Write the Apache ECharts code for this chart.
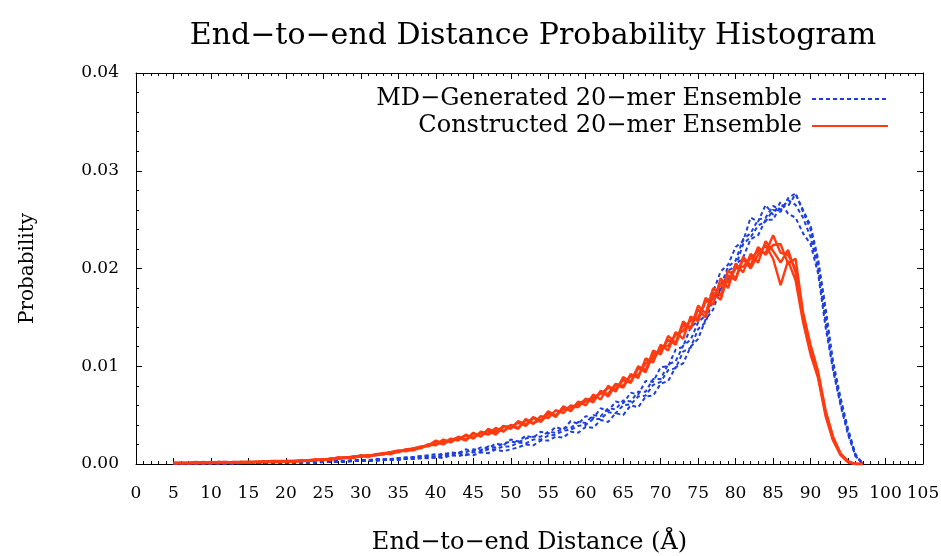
<!DOCTYPE html>
<html>
<head>
<meta charset="utf-8">
<script src="https://cdn.jsdelivr.net/npm/echarts@6/dist/echarts.min.js"></script>
<style>
html,body{margin:0;padding:0;background:#fff;}
#chart{width:941px;height:556px;}
</style>
</head>
<body>
<div id="chart"></div>
<script>
// Distance bins (Å), 5..97
const distances = [5,6,7,8,9,10,11,12,13,14,15,16,17,18,19,20,21,22,23,24,25,26,27,28,29,30,31,32,33,34,35,36,37,38,39,40,41,42,43,44,45,46,47,48,49,50,51,52,53,54,55,56,57,58,59,60,61,62,63,64,65,66,67,68,69,70,71,72,73,74,75,76,77,78,79,80,81,82,83,84,85,86,87,88,89,90,91,92,93,94,95,96,97];

const xTicks = [0,5,10,15,20,25,30,35,40,45,50,55,60,65,70,75,80,85,90,95,100,105];
const yTicks = [0.00,0.01,0.02,0.03,0.04];

// MD-Generated 20-mer Ensemble (4 runs)
const md1 = [0,0,0.0001,0,0.0001,0,0.0001,0.0001,0,0.0001,0.0001,0.0001,0.0001,0.0001,0.0001,
  0.0001,0.0001,0.0002,0.0001,0.0002,0.0002,0.0002,0.0002,0.0003,0.0003,
  0.0003,0.0003,0.0004,0.0004,0.0004,0.0005,0.0005,0.0006,0.0006,0.0007,
  0.0006,0.0009,0.0008,0.0011,0.0009,0.0012,0.0012,0.0015,0.0015,0.0018,
  0.0018,0.0022,0.0021,0.0025,0.0025,0.0029,0.0030,0.0034,0.0035,0.0039,
  0.0040,0.0046,0.0046,0.0053,0.0052,0.0060,0.0061,0.0069,0.0070,0.0081,
  0.0084,0.0096,0.0098,0.0115,0.0119,0.0138,0.0145,0.0170,0.0177,0.0198,
  0.0202,0.0225,0.0232,0.0244,0.0248,0.0260,0.0258,0.0272,0.0277,0.0258,
  0.0240,0.0206,0.0150,0.0100,0.0064,0.0033,0.0009,0];
const md2 = [0,0.0001,0,0.0001,0.0001,0.0001,0,0.0001,0.0001,0.0001,0.0001,0.0001,0.0001,0.0002,0.0001,
  0.0001,0.0002,0.0002,0.0002,0.0002,0.0002,0.0003,0.0003,0.0003,0.0004,
  0.0004,0.0004,0.0004,0.0005,0.0005,0.0006,0.0007,0.0007,0.0008,0.0009,
  0.0010,0.0009,0.0012,0.0011,0.0015,0.0013,0.0017,0.0016,0.0021,0.0019,
  0.0025,0.0023,0.0029,0.0027,0.0033,0.0031,0.0038,0.0035,0.0044,0.0041,
  0.0049,0.0047,0.0057,0.0054,0.0064,0.0062,0.0073,0.0071,0.0085,0.0084,
  0.0099,0.0100,0.0117,0.0120,0.0140,0.0146,0.0166,0.0176,0.0197,0.0204,
  0.0222,0.0228,0.0252,0.0248,0.0265,0.0255,0.0268,0.0256,0.0252,0.0236,
  0.0225,0.0195,0.0140,0.0096,0.0060,0.0030,0.0008,0];
const md3 = [0,0,0,0.0001,0,0.0001,0.0001,0,0.0001,0.0001,0.0001,0.0001,0.0001,0.0001,0.0001,
  0.0001,0.0001,0.0001,0.0002,0.0001,0.0002,0.0002,0.0002,0.0002,0.0003,
  0.0003,0.0003,0.0003,0.0004,0.0004,0.0004,0.0005,0.0005,0.0006,0.0006,
  0.0007,0.0006,0.0009,0.0008,0.0010,0.0009,0.0012,0.0011,0.0015,0.0013,
  0.0015,0.0017,0.0020,0.0019,0.0024,0.0024,0.0028,0.0027,0.0033,0.0032,
  0.0038,0.0037,0.0045,0.0043,0.0052,0.0050,0.0060,0.0058,0.0069,0.0070,
  0.0082,0.0085,0.0099,0.0103,0.0120,0.0128,0.0148,0.0158,0.0180,0.0188,
  0.0204,0.0211,0.0230,0.0234,0.0250,0.0250,0.0264,0.0264,0.0276,0.0260,
  0.0244,0.0210,0.0160,0.0105,0.0068,0.0036,0.0010,0];
const md4 = [0,0,0.0001,0.0001,0,0.0001,0.0001,0.0001,0.0001,0.0001,0.0001,0.0001,0.0002,0.0001,0.0001,
  0.0002,0.0001,0.0002,0.0002,0.0002,0.0002,0.0003,0.0003,0.0003,0.0004,
  0.0004,0.0004,0.0005,0.0005,0.0005,0.0006,0.0006,0.0007,0.0008,0.0008,
  0.0008,0.0011,0.0010,0.0012,0.0012,0.0015,0.0014,0.0018,0.0017,0.0021,
  0.0023,0.0022,0.0026,0.0028,0.0028,0.0033,0.0032,0.0037,0.0037,0.0043,
  0.0042,0.0050,0.0049,0.0057,0.0056,0.0065,0.0064,0.0074,0.0074,0.0087,
  0.0087,0.0102,0.0105,0.0121,0.0127,0.0145,0.0152,0.0175,0.0182,0.0202,
  0.0208,0.0230,0.0236,0.0250,0.0252,0.0264,0.0260,0.0270,0.0265,0.0252,
  0.0232,0.0200,0.0146,0.0098,0.0062,0.0032,0.0008,0];

// Constructed 20-mer Ensemble (4 runs)
const cs1 = [0.0001,0.0001,0.0001,0.0001,0.0002,0.0001,0.0001,0.0002,0.0001,0.0002,0.0002,0.0002,0.0003,0.0002,0.0002,
  0.0003,0.0003,0.0004,0.0003,0.0004,0.0005,0.0004,0.0006,0.0007,0.0007,
  0.0008,0.0007,0.0010,0.0011,0.0010,0.0013,0.0014,0.0014,0.0017,0.0019,
  0.0024,0.0021,0.0026,0.0024,0.0030,0.0026,0.0033,0.0031,0.0037,0.0033,
  0.0040,0.0037,0.0045,0.0041,0.0049,0.0047,0.0055,0.0052,0.0060,0.0058,
  0.0067,0.0063,0.0075,0.0069,0.0081,0.0078,0.0092,0.0088,0.0108,0.0104,
  0.0122,0.0116,0.0135,0.0128,0.0151,0.0146,0.0170,0.0163,0.0190,0.0180,
  0.0205,0.0196,0.0215,0.0206,0.0228,0.0218,0.0206,0.0219,0.0196,0.0150,
  0.0115,0.0090,0.0052,0.0025,0.0010,0.0002,0,0];
const cs2 = [0.0001,0.0001,0.0001,0.0002,0.0001,0.0001,0.0002,0.0001,0.0002,0.0002,0.0001,0.0002,0.0002,0.0003,0.0003,
  0.0002,0.0003,0.0003,0.0004,0.0004,0.0004,0.0006,0.0005,0.0006,0.0008,
  0.0007,0.0009,0.0009,0.0011,0.0012,0.0012,0.0015,0.0016,0.0016,0.0020,
  0.0019,0.0025,0.0022,0.0028,0.0025,0.0032,0.0028,0.0036,0.0032,0.0039,
  0.0036,0.0044,0.0040,0.0048,0.0044,0.0054,0.0049,0.0058,0.0054,0.0064,
  0.0060,0.0071,0.0066,0.0080,0.0074,0.0089,0.0084,0.0100,0.0096,0.0116,
  0.0112,0.0131,0.0124,0.0146,0.0139,0.0162,0.0154,0.0180,0.0172,0.0198,
  0.0190,0.0212,0.0203,0.0222,0.0214,0.0224,0.0225,0.0205,0.0210,0.0155,
  0.0122,0.0095,0.0055,0.0028,0.0011,0.0003,0,0];
const cs3 = [0.0001,0.0001,0.0001,0.0001,0.0001,0.0002,0.0001,0.0001,0.0002,0.0001,0.0002,0.0002,0.0002,0.0002,0.0003,
  0.0003,0.0002,0.0003,0.0004,0.0005,0.0004,0.0005,0.0007,0.0006,0.0007,
  0.0009,0.0008,0.0010,0.0010,0.0012,0.0014,0.0013,0.0016,0.0018,0.0018,
  0.0022,0.0020,0.0025,0.0027,0.0024,0.0031,0.0029,0.0034,0.0030,0.0038,
  0.0039,0.0036,0.0046,0.0042,0.0045,0.0053,0.0048,0.0059,0.0055,0.0062,
  0.0065,0.0068,0.0072,0.0078,0.0076,0.0086,0.0083,0.0098,0.0094,0.0112,
  0.0116,0.0127,0.0122,0.0143,0.0138,0.0158,0.0150,0.0175,0.0168,0.0193,
  0.0188,0.0210,0.0200,0.0214,0.0224,0.0210,0.0183,0.0208,0.0188,0.0145,
  0.0112,0.0088,0.0049,0.0024,0.0009,0.0002,0,0];
const cs4 = [0.0001,0.0001,0.0001,0.0001,0.0001,0.0001,0.0002,0.0002,0.0001,0.0002,0.0002,0.0002,0.0002,0.0003,0.0002,
  0.0003,0.0003,0.0003,0.0003,0.0004,0.0005,0.0005,0.0006,0.0007,0.0006,
  0.0008,0.0009,0.0009,0.0010,0.0012,0.0013,0.0015,0.0015,0.0017,0.0020,
  0.0021,0.0024,0.0023,0.0026,0.0029,0.0027,0.0032,0.0030,0.0035,0.0034,
  0.0038,0.0042,0.0039,0.0047,0.0043,0.0051,0.0050,0.0056,0.0058,0.0061,
  0.0064,0.0066,0.0073,0.0072,0.0082,0.0080,0.0090,0.0091,0.0103,0.0108,
  0.0119,0.0121,0.0132,0.0136,0.0147,0.0150,0.0166,0.0168,0.0184,0.0186,
  0.0200,0.0202,0.0210,0.0218,0.0216,0.0234,0.0216,0.0214,0.0200,0.0152,
  0.0118,0.0092,0.0053,0.0027,0.0010,0.0002,0,0];

const mdName = 'MD\u2212Generated 20\u2212mer Ensemble';
const csName = 'Constructed 20\u2212mer Ensemble';
const mdRuns = [md1, md2, md3, md4];
const csRuns = [cs1, cs2, cs3, cs4];

const FONT = 'DejaVu Serif';
const BLUE = '#1e3fe0';
const RED = '#ff3b12';

function pairs(arr){ return distances.map((d,i)=>[d, arr[i]]); }

const series = [];
mdRuns.forEach(r => series.push({
  name: mdName, type: 'line', data: pairs(r), showSymbol: false, symbol: 'none',
  lineStyle: {color: BLUE, width: 2, type: [4,3]}, itemStyle: {color: BLUE}, z: 2, animation: false
}));
csRuns.forEach(r => series.push({
  name: csName, type: 'line', data: pairs(r), showSymbol: false, symbol: 'none',
  lineStyle: {color: RED, width: 2.4}, itemStyle: {color: RED}, z: 3, animation: false
}));

const axisCommon = {
  axisLine: {show: true, onZero: false, lineStyle: {color: '#000', width: 1}},
  splitLine: {show: false}
};

const option = {
  backgroundColor: '#fff',
  animation: false,
  title: {
    text: 'End\u2212to\u2212end Distance Probability Histogram',
    left: 528, top: 16, textAlign: 'center',
    textStyle: {fontFamily: FONT, fontSize: 30, fontWeight: 'normal', color: '#000'}
  },
  grid: {left: 136, right: 18, top: 73, bottom: 92, containLabel: false, outerBoundsMode: 'none'},
  legend: {
    data: [mdName, csName],
    orient: 'vertical', align: 'right', right: 47, top: 82,
    itemWidth: 76, itemHeight: 14, itemGap: 3,
    itemStyle: {opacity: 0},
    textStyle: {fontFamily: FONT, fontSize: 24, color: '#000', padding: [0, 5, 0, 0]}
  },
  xAxis: [
    Object.assign({}, axisCommon, {
      type: 'value', min: xTicks[0], max: xTicks[xTicks.length-1], interval: 5,
      name: 'End\u2212to\u2212end Distance (\u00c5)', nameLocation: 'middle', nameGap: 67,
      nameTextStyle: {fontFamily: FONT, fontSize: 24, color: '#000'},
      axisTick: {inside: true, length: 6, lineStyle: {color: '#000'}},
      minorTick: {show: true, splitNumber: 5, length: 3, lineStyle: {color: '#000'}},
      axisLabel: {fontFamily: FONT, fontSize: 17, color: '#000', margin: 21, showMaxLabel: true, showMinLabel: true}
    }),
    Object.assign({}, axisCommon, {
      type: 'value', position: 'top', min: xTicks[0], max: xTicks[xTicks.length-1], interval: 5,
      axisTick: {inside: true, length: 6, lineStyle: {color: '#000'}},
      minorTick: {show: true, splitNumber: 5, length: 3, lineStyle: {color: '#000'}},
      axisLabel: {show: false}
    })
  ],
  yAxis: [
    Object.assign({}, axisCommon, {
      type: 'value', min: yTicks[0], max: yTicks[yTicks.length-1], interval: 0.01,
      name: 'Probability', nameLocation: 'middle', nameGap: 98, nameRotate: 90,
      nameTextStyle: {fontFamily: FONT, fontSize: 20, color: '#000'},
      axisTick: {inside: true, length: 6, lineStyle: {color: '#000'}},
      minorTick: {show: true, splitNumber: 5, length: 3, lineStyle: {color: '#000'}},
      axisLabel: {fontFamily: FONT, fontSize: 17, color: '#000', margin: 17, formatter: v => v.toFixed(2)}
    }),
    Object.assign({}, axisCommon, {
      type: 'value', position: 'right', min: yTicks[0], max: yTicks[yTicks.length-1], interval: 0.01,
      axisTick: {inside: true, length: 6, lineStyle: {color: '#000'}},
      minorTick: {show: true, splitNumber: 5, length: 3, lineStyle: {color: '#000'}},
      axisLabel: {show: false}
    })
  ],
  series: series
};

const chart = echarts.init(document.getElementById('chart'), null, {renderer: 'canvas'});
chart.setOption(option);
</script>
</body>
</html>
